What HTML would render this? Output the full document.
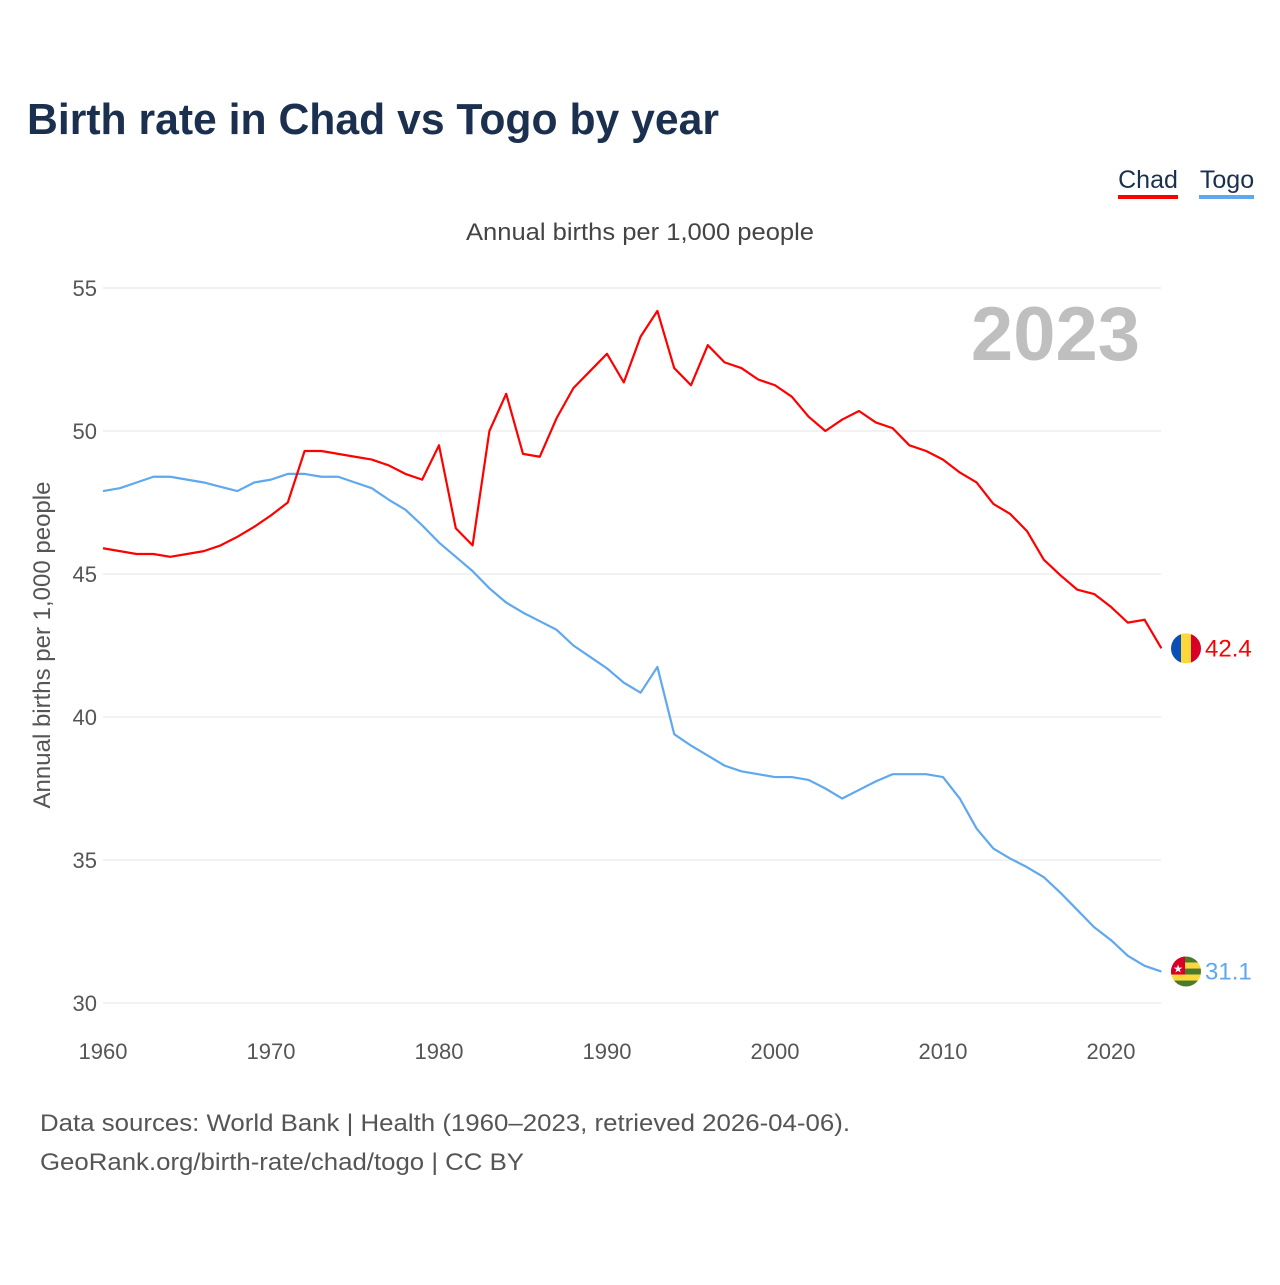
<!DOCTYPE html>
<html><head><meta charset="utf-8"><style>
body{margin:0;background:#fff;}
svg text{font-family:"Liberation Sans",sans-serif;}
</style></head><body>
<svg width="1280" height="1280" viewBox="0 0 1280 1280">
<rect width="1280" height="1280" fill="#fff"/>
<text x="27" y="134" font-size="44" font-weight="bold" fill="#1b304f" textLength="692" lengthAdjust="spacingAndGlyphs">Birth rate in Chad vs Togo by year</text>
<g><text x="1148" y="188" font-size="25" fill="#1b304f" text-anchor="middle">Chad</text><rect x="1118" y="195" width="60" height="4" fill="#ff0000"/></g>
<g><text x="1227" y="188" font-size="25" fill="#1b304f" text-anchor="middle">Togo</text><rect x="1199" y="195" width="55" height="4" fill="#5fa8ee"/></g>
<text x="466" y="240" font-size="24" fill="#444" textLength="348" lengthAdjust="spacingAndGlyphs">Annual births per 1,000 people</text>
<text transform="translate(50,645) rotate(-90)" font-size="24" fill="#555" text-anchor="middle">Annual births per 1,000 people</text>
<text x="1140" y="360" font-size="76" font-weight="bold" fill="#bfbfbf" text-anchor="end">2023</text>
<g id="grid"></g><g id="lines"></g><g id="labels"></g>
<text x="40" y="1131" font-size="24" fill="#555" textLength="810" lengthAdjust="spacingAndGlyphs">Data sources: World Bank | Health (1960–2023, retrieved 2026-04-06).</text>
<text x="40" y="1170" font-size="24" fill="#555" textLength="484" lengthAdjust="spacingAndGlyphs">GeoRank.org/birth-rate/chad/togo | CC BY</text>
</svg>
<script>
const years=[];for(let y=1960;y<=2023;y++)years.push(y);
const chad=[45.9,45.8,45.7,45.7,45.6,45.7,45.8,46.0,46.3,46.65,47.05,47.5,49.3,49.3,49.2,49.1,49.0,48.8,48.5,48.3,49.5,46.6,46.0,50.0,51.3,49.2,49.1,50.45,51.5,52.1,52.7,51.7,53.3,54.2,52.2,51.6,53.0,52.4,52.2,51.8,51.6,51.2,50.5,50.0,50.4,50.7,50.3,50.1,49.5,49.3,49.0,48.55,48.2,47.45,47.1,46.5,45.5,44.95,44.45,44.3,43.85,43.3,43.4,42.4];
const togo=[47.9,48.0,48.2,48.4,48.4,48.3,48.2,48.05,47.9,48.2,48.3,48.5,48.5,48.4,48.4,48.2,48.0,47.6,47.25,46.7,46.1,45.6,45.1,44.5,44.0,43.65,43.35,43.05,42.5,42.1,41.7,41.2,40.85,41.75,39.4,39.0,38.65,38.3,38.1,38.0,37.9,37.9,37.8,37.5,37.15,37.45,37.75,38.0,38.0,38.0,37.9,37.15,36.1,35.4,35.05,34.75,34.4,33.85,33.25,32.65,32.2,31.65,31.3,31.1];
const yTicks=[30,35,40,45,50,55];
const xTicks=[1960,1970,1980,1990,2000,2010,2020];
const NS="http://www.w3.org/2000/svg";
const X=v=>103+(v-1960)*16.8, Y=v=>1003-(v-30)*28.6;
function mk(t,a,p){const e=document.createElementNS(NS,t);for(const k in a)e.setAttribute(k,a[k]);p.appendChild(e);return e;}
const g=document.getElementById('grid'),L=document.getElementById('lines'),lb=document.getElementById('labels');
yTicks.forEach(v=>{
 const l=mk('line',{x1:103,x2:1161,y1:Y(v),y2:Y(v),stroke:'#e6e6e6','stroke-width':1},g);
 
 
 const t=mk('text',{x:97,y:Y(v)+8,'font-size':22,fill:'#555','text-anchor':'end'},g);t.textContent=v;
 
 
});
xTicks.forEach(v=>{
 const t=mk('text',{x:X(v),y:1059,'font-size':22,fill:'#555','text-anchor':'middle'},g);t.textContent=v;
 
 
});
function line(d,c,n){
 const p=mk('polyline',{points:d.map((v,i)=>X(years[i])+','+Y(v)).join(' '),fill:'none',stroke:c,'stroke-width':2.2,'stroke-linejoin':'round'},L);
 
 
}
line(togo,'#5fa8ee','togo-line');line(chad,'#ff0000','chad-line');
function flag(cy,type,val,color,n){
 const cx=1186;
 const grp=mk('g',{},lb);
 
 
 const id='c'+n;const cp=mk('clipPath',{id:id},grp);mk('circle',{cx:cx,cy:cy,r:15},cp);
 const f=mk('g',{'clip-path':'url(#'+id+')'},grp);
 if(type==='chad'){mk('rect',{x:cx-15,y:cy-15,width:10,height:30,fill:'#0a4fb5'},f);mk('rect',{x:cx-5,y:cy-15,width:10,height:30,fill:'#fed83a'},f);mk('rect',{x:cx+5,y:cy-15,width:10,height:30,fill:'#d80027'},f);}
 else{for(let i=0;i<5;i++)mk('rect',{x:cx-15,y:cy-15+i*6,width:30,height:6,fill:i%2?'#fed83a':'#4a7a2c'},f);mk('rect',{x:cx-15,y:cy-15,width:14,height:18,fill:'#d80027'},f);mk('text',{x:cx-8,y:cy+1,'font-size':11,fill:'#fff','text-anchor':'middle'},f).textContent='★';}
 const t=mk('text',{x:1205,y:cy+8,'font-size':24,fill:color},grp);t.textContent=val;
}
flag(Y(chad[chad.length-1]),'chad',chad[chad.length-1].toFixed(1),'#ff0000','chad');
flag(Y(togo[togo.length-1]),'togo',togo[togo.length-1].toFixed(1),'#5fa8ee','togo');
</script>
</body></html>
